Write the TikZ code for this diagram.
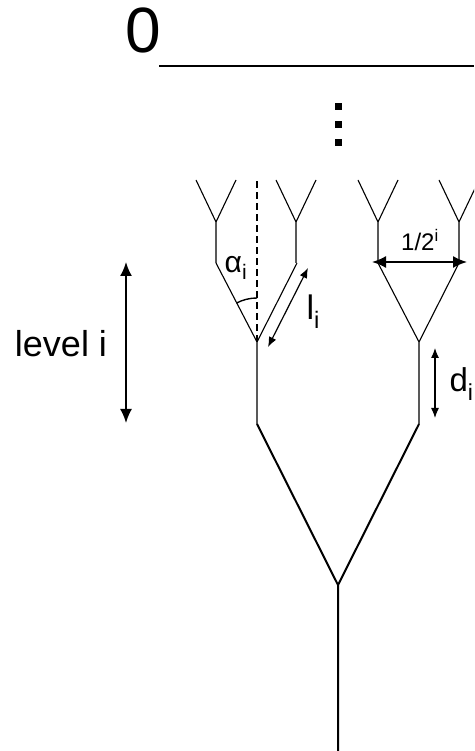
\documentclass[tikz,border=0pt]{standalone}
\usepackage{fontspec}
\setmainfont{Liberation Sans}
\usetikzlibrary{arrows.meta}
\tikzset{
  stem/.style={line width=2pt},
  twig/.style={line width=1.1pt},
  bigarrow/.style={line width=1.8pt, {Latex[length=14pt,width=12pt]}-{Latex[length=14pt,width=12pt]}},
  smallarrow/.style={line width=1.2pt, {Latex[length=10pt,width=8pt]}-{Latex[length=10pt,width=8pt]}},
}
\newcommand{\fsize}[1]{\fontsize{#1}{#1}\selectfont}
\begin{document}
\begin{tikzpicture}[x=1pt, y=1pt]
          \useasboundingbox (0,0) rectangle (474,751);
          \clip (0,0) rectangle (474,751);
          % level 0 line
          \node[anchor=base] (zero) at (143,698) {\fsize{64}0};
          \coordinate (topl) at (159,685);
          \coordinate (topr) at (474,685);
          \draw[line width=2.4pt] (topl) -- (topr);
          \foreach \y in {608,626,644}
            \fill (334.5,\y-3.5) rectangle ++(7,7);
          % level i-1
          \coordinate (base) at (338,0);
          \coordinate (fork) at (338,166);
          \draw[stem] (base) 
            -- (fork)
            -- (257,327);
          \draw[stem] (fork)
            -- (419,327);
          % level i
          \foreach \x in {257,419} {
            \coordinate (s\x) at (\x,327);
            \coordinate (j\x) at (\x,409);
            \coordinate (a\x) at (\x-41,488);
            \coordinate (b\x) at (\x+40,488);
            \draw[twig] (s\x) -- (j\x) -- (a\x);
            \draw[twig] (j\x) -- (b\x);
          }
          % level i+1
          \foreach \x in {216,296,378,459} {
            \coordinate (t\x) at (\x,529);
            \draw[twig] (\x,488) -- (t\x) -- (\x-20,571);
            \draw[twig] (t\x) -- (\x+20,571);
          }
          % angle
          \coordinate (axis) at (257,571);
          \draw[twig, dash pattern=on 7pt off 4pt] (j257) -- (axis);
          \draw[line width=1.4pt] (257,453) arc[start angle=90, end angle=118, radius=44];
          \node (alpha) at (236,483) {\fsize{30}α\textsubscript{i}};
          % branch length
          \coordinate (la) at (268,404);
          \coordinate (lb) at (308,483);
          \draw[smallarrow] (la) -- (lb);
          \node[anchor=base west] (li) at (303,431) {\fsize{34}l\textsubscript{i}};
          % width
          \coordinate (wa) at (372,489);
          \coordinate (wb) at (467,489);
          \draw[bigarrow] (wa) -- (wb);
          \node[anchor=base] (wi) at (420,500) {\fsize{24}1/2\textsuperscript{i}};
          % stem length
          \coordinate (da) at (435,403);
          \coordinate (db) at (435,333);
          \draw[smallarrow] (da) -- (db);
          \node[anchor=base west] (di) at (446,359) {\fsize{33}d\textsubscript{i}};
          % level
          \coordinate (va) at (126,489);
          \coordinate (vb) at (126,328);
          \draw[bigarrow] (va) -- (vb);
          \node[anchor=base] (level) at (61,394) {\fsize{36}level i};
        \end{tikzpicture}
\end{document}
